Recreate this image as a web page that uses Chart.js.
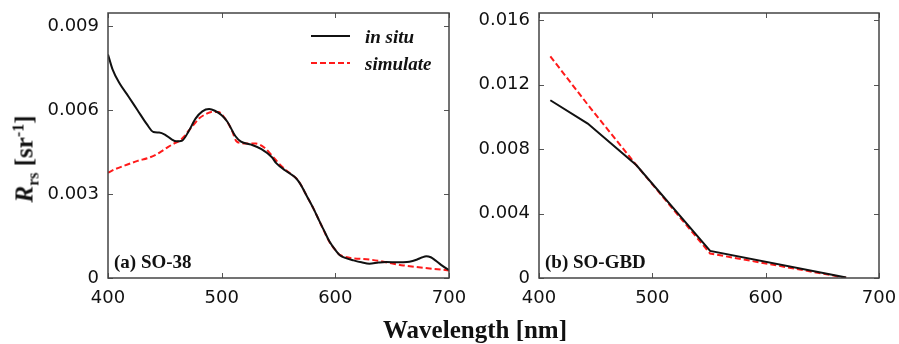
<!DOCTYPE html>
<html>
<head>
<meta charset="utf-8">
<script src="https://cdn.jsdelivr.net/npm/chart.js@4"></script>
<style>
  body { margin: 0; background: #fff; }
  #wrap { position: relative; width: 899px; height: 344px; overflow: hidden; }
  canvas { position: absolute; left: 0; top: 0; }
  .ttl { position: absolute; font-family: "Liberation Serif", serif; font-weight: bold; color: #111; white-space: nowrap; line-height: 1; }
  #ytitle { left: 24px; top: 159px; font-size: 25px; transform: translate(-50%, -50%) rotate(-90deg); }
  #ytitle sub, #ytitle sup { font-size: 16px; line-height: 0; }
  #xtitle { left: 475px; top: 317px; font-size: 25px; transform: translateX(-50%); }
</style>
</head>
<body>
<div id="wrap">
  <canvas id="chartA" width="899" height="344"></canvas>
  <canvas id="chartB" width="899" height="344"></canvas>
  <div class="ttl" id="ytitle"><i>R</i><sub>rs</sub> [sr<sup>-1</sup>]</div>
  <div class="ttl" id="xtitle">Wavelength [nm]</div>
</div>
<script>
// (a) SO-38
const wlA_insitu = [400,404,410,418,426,434,440,445,450,456,460,465,471,477,483,489,494,500,505,512,517,526,535,544,548,556,560,565,569,575,581,586,590,595,600,604,610,616,623,630,638,645,655,663,668,672,676,680,684,688,693,699,700];
const rrsA_insitu = [0.00798,0.00745,0.00696,0.00648,0.00599,0.00550,0.00521,0.00519,0.00512,0.00495,0.00488,0.00490,0.00524,0.00569,0.00595,0.00603,0.00597,0.00581,0.00558,0.00507,0.00487,0.00476,0.00460,0.00432,0.00410,0.00384,0.00373,0.00358,0.00337,0.00292,0.00246,0.00203,0.00170,0.00129,0.00100,0.00081,0.00070,0.00063,0.00056,0.00051,0.00055,0.00057,0.00056,0.00057,0.00061,0.00066,0.00073,0.00078,0.00074,0.00063,0.00047,0.00031,0.00029];
const wlA_sim = [400,406,415,426,435,441,447,453,458,463,467,471,476,480,486,491,497,503,509,513,517,521,530,538,547,552,557,562,567,575,581,586,590,595,600,604,630,660,700];
const rrsA_sim = [0.00376,0.00388,0.00402,0.00418,0.00428,0.00438,0.00452,0.00468,0.00480,0.00490,0.00505,0.00526,0.00550,0.00569,0.00585,0.00593,0.00593,0.00569,0.00527,0.00488,0.00482,0.00480,0.00480,0.00464,0.00424,0.00402,0.00384,0.00368,0.00350,0.00292,0.00246,0.00203,0.00168,0.00128,0.00100,0.00082,0.00066,0.00045,0.00027];

// (b) SO-GBD
const wlB = [410, 443, 486, 551, 671];
const rrsB_insitu = [0.01104, 0.00959, 0.00700, 0.00168, 0.00003];
const rrsB_sim = [0.01377, 0.01077, 0.00700, 0.00152, 0.00001];

// axes
const xTicks = [400, 500, 600, 700];
const yTicksA = [0, 0.003, 0.006, 0.009];
const yTicksB = [0, 0.004, 0.008, 0.012, 0.016];
const yMaxA = 0.00946;
const yMaxB = 0.01646;
const seriesNames = ["in situ", "simulate"];

const toPts = (xs, ys) => xs.map((x, i) => ({x: x, y: ys[i]}));

// frame, inward ticks, panel label, legend
const framePlugin = {
  id: "frame",
  afterDraw(chart, args, opts) {
    const ctx = chart.ctx;
    const a = chart.chartArea;
    const xs = chart.scales.x, ys = chart.scales.y;
    ctx.save();
    ctx.strokeStyle = "#555";
    ctx.lineWidth = 1;
    ctx.beginPath();
    xs.ticks.forEach(t => {
      const p = Math.round(xs.getPixelForValue(t.value)) + 0.5;
      ctx.moveTo(p, a.bottom); ctx.lineTo(p, a.bottom - 5);
      ctx.moveTo(p, a.top); ctx.lineTo(p, a.top + 5);
    });
    ys.ticks.forEach(t => {
      const p = Math.round(ys.getPixelForValue(t.value)) + 0.5;
      ctx.moveTo(a.left, p); ctx.lineTo(a.left + 5, p);
      ctx.moveTo(a.right, p); ctx.lineTo(a.right - 5, p);
    });
    ctx.stroke();
    ctx.strokeStyle = "#444";
    ctx.lineWidth = 1.5;
    ctx.strokeRect(a.left, a.top, a.right - a.left, a.bottom - a.top);

    ctx.fillStyle = "#111";
    ctx.font = 'bold 19px "Liberation Serif"';
    ctx.textBaseline = "alphabetic";
    ctx.fillText(opts.label, a.left + 6, a.bottom - 10);

    if (opts.legend) {
      chart.data.datasets.forEach((ds, i) => {
        const ly = a.top + 23 + i * 27;
        ctx.strokeStyle = ds.borderColor;
        ctx.lineWidth = ds.borderWidth;
        ctx.setLineDash(ds.borderDash || []);
        ctx.beginPath();
        ctx.moveTo(a.left + 203, ly); ctx.lineTo(a.left + 242, ly);
        ctx.stroke();
        ctx.setLineDash([]);
        ctx.font = 'italic bold 19px "Liberation Serif"';
        ctx.fillText(ds.label, a.left + 257, ly + 7);
      });
    }
    ctx.restore();
  }
};

function makeChart(id, sets, yTicks, yMax, pad, yWidth, label, legend, smooth) {
  return new Chart(document.getElementById(id), {
    type: "line",
    data: {
      datasets: [
        {label: seriesNames[0], data: sets[0], borderColor: "#111", borderWidth: 2, pointRadius: 0, fill: false,
         tension: smooth ? 0.4 : 0, cubicInterpolationMode: smooth ? "monotone" : "default"},
        {label: seriesNames[1], data: sets[1], borderColor: "#ff1a1a", borderWidth: 2, borderDash: [6, 3], pointRadius: 0, fill: false,
         tension: smooth ? 0.4 : 0, cubicInterpolationMode: smooth ? "monotone" : "default"}
      ]
    },
    options: {
      responsive: false,
      animation: false,
      events: [],
      layout: {padding: pad},
      plugins: {legend: {display: false}, tooltip: {enabled: false}, frame: {label: label, legend: legend}},
      scales: {
        x: {
          type: "linear", min: 400, max: 700,
          afterBuildTicks: s => { s.ticks = xTicks.map(v => ({value: v})); },
          afterFit: s => { s.height = 40; s.paddingLeft = 0; s.paddingRight = 0; },
          grid: {display: false, drawTicks: false}, border: {display: false},
          ticks: {padding: 10, color: "#111", font: {family: "DejaVu Sans", size: 18}}
        },
        y: {
          type: "linear", min: 0, max: yMax,
          afterBuildTicks: s => { s.ticks = yTicks.map(v => ({value: v})); },
          afterFit: s => { s.width = yWidth; s.paddingTop = 0; s.paddingBottom = 0; },
          grid: {display: false, drawTicks: false}, border: {display: false},
          ticks: {padding: 9, color: "#111", font: {family: "DejaVu Sans", size: 18},
                  callback: v => v === 0 ? "0" : v.toFixed(3)}
        }
      }
    },
    plugins: [framePlugin]
  });
}

makeChart("chartA", [toPts(wlA_insitu, rrsA_insitu), toPts(wlA_sim, rrsA_sim)], yTicksA, yMaxA,
  {left: 0, right: 450, top: 13, bottom: 26}, 108, "(a) SO-38", true, true);
makeChart("chartB", [toPts(wlB, rrsB_insitu), toPts(wlB, rrsB_sim)], yTicksB, yMaxB,
  {left: 460, right: 20, top: 13, bottom: 26}, 79, "(b) SO-GBD", false, false);
</script>
</body>
</html>
